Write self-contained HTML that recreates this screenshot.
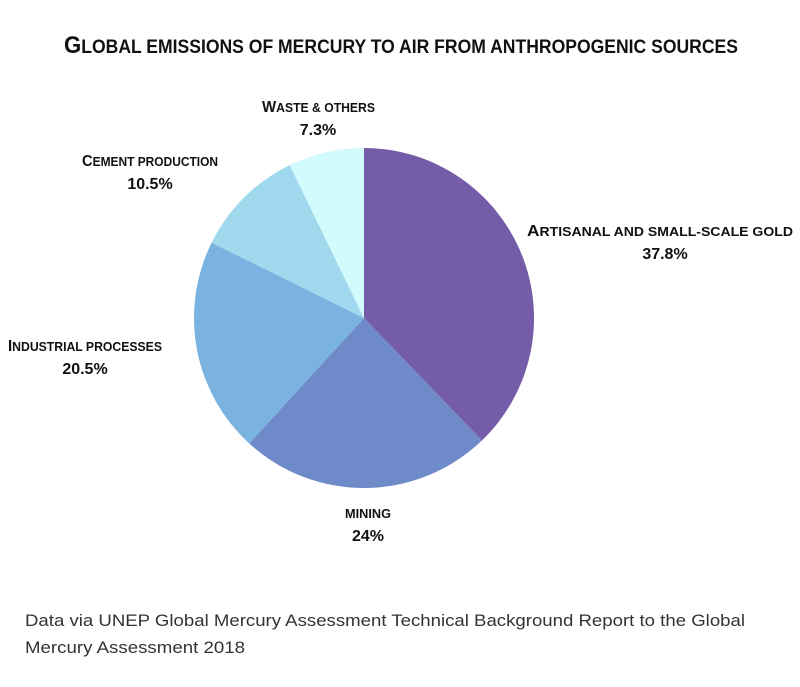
<!DOCTYPE html>
<html><head><meta charset="utf-8"><style>
body{margin:0;background:#fff;}
svg text{font-family:"Liberation Sans",sans-serif;font-weight:bold;fill:#111;}
.f{font-weight:normal;fill:#333;font-size:17px;}
</style></head><body>
<svg width="800" height="682" viewBox="0 0 800 682" xmlns="http://www.w3.org/2000/svg">
<text x="64" y="53" font-size="19" textLength="674" lengthAdjust="spacingAndGlyphs"><tspan font-size="24">G</tspan>LOBAL EMISSIONS OF MERCURY TO AIR FROM ANTHROPOGENIC SOURCES</text>
<path d="M364 318 L364 148 A170 170 0 0 1 481.9 440.5 Z" fill="#745ca8"/>
<path d="M364 318 L481.9 440.5 A170 170 0 0 1 249.2 443.4 Z" fill="#6f8ac9"/>
<path d="M364 318 L249.2 443.4 A170 170 0 0 1 211.6 242.7 Z" fill="#7ab2e0"/>
<path d="M364 318 L211.6 242.7 A170 170 0 0 1 289.7 165.1 Z" fill="#a0d8ee"/>
<path d="M364 318 L289.7 165.1 A170 170 0 0 1 364 148 Z" fill="#d3fbfd"/>
<g font-size="13">
<text x="262" y="112" textLength="113" lengthAdjust="spacingAndGlyphs"><tspan font-size="16">W</tspan>ASTE &amp; OTHERS</text>
<text x="318" y="135" text-anchor="middle" font-size="16">7.3%</text>
<text x="82" y="166" textLength="136" lengthAdjust="spacingAndGlyphs"><tspan font-size="16">C</tspan>EMENT PRODUCTION</text>
<text x="150" y="189" text-anchor="middle" font-size="16">10.5%</text>
<text x="527" y="236" textLength="266" lengthAdjust="spacingAndGlyphs"><tspan font-size="16">A</tspan>RTISANAL AND SMALL-SCALE GOLD</text>
<text x="665" y="259" text-anchor="middle" font-size="16">37.8%</text>
<text x="8" y="351" textLength="154" lengthAdjust="spacingAndGlyphs"><tspan font-size="16">I</tspan>NDUSTRIAL PROCESSES</text>
<text x="85" y="374" text-anchor="middle" font-size="16">20.5%</text>
<text x="345" y="518" textLength="46" lengthAdjust="spacingAndGlyphs">MINING</text>
<text x="368" y="541" text-anchor="middle" font-size="16">24%</text>
</g>
<text class="f" x="25" y="626" textLength="720" lengthAdjust="spacingAndGlyphs">Data via UNEP Global Mercury Assessment Technical Background Report to the Global</text>
<text class="f" x="25" y="653" textLength="220" lengthAdjust="spacingAndGlyphs">Mercury Assessment 2018</text>
</svg>
</body></html>
